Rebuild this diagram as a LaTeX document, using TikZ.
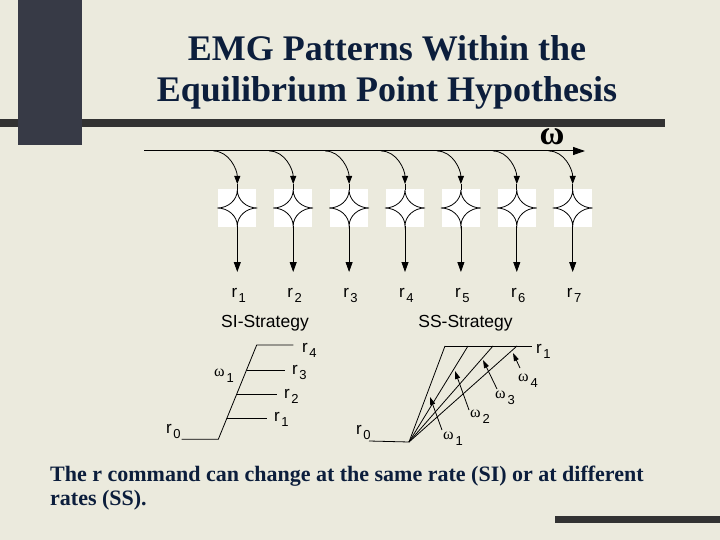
\documentclass[tikz,border=0pt]{standalone}
\usepackage{fontspec}
\setmainfont{Liberation Serif}
\setsansfont{Liberation Sans}
\usetikzlibrary{arrows.meta}
\definecolor{bg}{RGB}{235,234,221}
\definecolor{barv}{RGB}{55,58,70}
\definecolor{barh}{RGB}{50,50,50}
\definecolor{navy}{RGB}{12,30,60}
\newcommand{\rlab}[1]{{\sffamily\fontsize{17}{17}\selectfont r}\kern1.5pt\raisebox{-5pt}{\sffamily\fontsize{13}{13}\selectfont #1}}
\newcommand{\wlab}[1]{{\rmfamily\fontsize{16}{16}\selectfont ω}\kern2pt\raisebox{-6pt}{\sffamily\fontsize{13}{13}\selectfont #1}}
\tikzset{
  titletext/.style={text=navy, font=\bfseries\fontsize{36}{36}\selectfont, inner sep=0pt, anchor=base},
  bodytext/.style={text=navy, font=\bfseries\fontsize{22}{22}\selectfont, inner sep=0pt, anchor=base west},
  lab/.style={inner sep=0pt, anchor=base west},
  heading/.style={font=\sffamily\fontsize{17.5}{17.5}\selectfont, inner sep=0pt, anchor=base},
  ln/.style={line width=0.8pt, black},
  bigtip/.style={-{Triangle[length=12pt,width=8pt]}},
  downtip/.style={-{Triangle[length=10pt,width=7pt]}},
  curvtip/.style={-{Triangle[length=8pt,width=6pt]}},
  smalltip/.style={-{Triangle[length=8pt,width=5pt]}},
}
\begin{document}
\begin{tikzpicture}[x=1pt,y=-1pt]
\useasboundingbox (0,0) rectangle (720,540);
\fill[bg] (0,0) rectangle (720,540);
\fill[barh] (0,119) rectangle (665,127);
\fill[barv] (18,0) rectangle (82,145);
\fill[barh] (555,516) rectangle (720,523);

% title
\node[titletext] (t1) at (387,61) {EMG Patterns Within the};
\node[titletext] (t2) at (387,102) {Equilibrium Point Hypothesis};

% omega axis
\coordinate (ax0) at (144,151);
\coordinate (ax1) at (585,151);
\draw[ln, line width=1pt, bigtip] (ax0) -- (ax1);
\node[inner sep=0pt, anchor=base] (om) at (552,145) {\bfseries\fontsize{34}{34}\selectfont ω};

\foreach \i in {1,...,7} {
  \pgfmathsetmacro\cx{237.3+55.9*(\i-1)}
  \fill[white] (\cx-19,189) rectangle (\cx+19,227);
  \coordinate (c\i) at (\cx-24,151);
  \coordinate (in\i) at (\cx,184);
  \coordinate (top\i) at (\cx,190);
  \coordinate (bot\i) at (\cx,226);
  \coordinate (out\i) at (\cx,272);
  \draw[ln] (top\i) .. controls (\cx,199.9) and (\cx+8.96,208) .. (\cx+20,208)
     .. controls (\cx+8.96,208) and (\cx,216.1) .. (bot\i)
     .. controls (\cx,216.1) and (\cx-8.96,208) .. (\cx-20,208)
     .. controls (\cx-8.96,208) and (\cx,199.9) .. (top\i);
  \draw[ln, curvtip] (c\i) .. controls +(16,0) and +(0,-14) .. (in\i);
  \draw[ln] (in\i) -- (top\i);
  \draw[ln, downtip] (bot\i) -- (out\i);
  \node[lab] (r\i) at (\cx-6,297) {\rlab{\i}};
}

% SI strategy
\node[heading] (si) at (265,327) {SI-Strategy};
\coordinate (si0) at (181.7,439.3);
\coordinate (sia) at (218.3,439.3);
\coordinate (sib) at (256.7,345);
\coordinate (si4) at (293.3,345);
\coordinate (si3a) at (246.5,370);
\coordinate (si3) at (285,370);
\coordinate (si2a) at (236.7,394);
\coordinate (si2) at (276.7,394);
\coordinate (si1a) at (227,418);
\coordinate (si1) at (266.7,418);
\draw[ln] (si0) -- (sia) -- (sib) -- (si4);
\draw[ln] (si3a) -- (si3);
\draw[ln] (si2a) -- (si2);
\draw[ln] (si1a) -- (si1);
\node[lab] (sir4) at (302,352) {\rlab{4}};
\node[lab] (sir3) at (292,374) {\rlab{3}};
\node[lab] (sir2) at (284,398) {\rlab{2}};
\node[lab] (sir1) at (274,421) {\rlab{1}};
\node[lab] (sir0) at (166,433) {\rlab{0}};
\node[lab] (siw1) at (214,376) {\wlab{1}};

% SS strategy
\node[heading] (ss) at (465.5,327) {SS-Strategy};
\coordinate (ss0) at (369,441);
\coordinate (ssa) at (409,442);
\coordinate (sst1) at (445,346);
\coordinate (sst2) at (468,346);
\coordinate (sst3) at (493,346);
\coordinate (sst4) at (517,346);
\coordinate (sstr) at (532,346);
\draw[ln] (ss0) -- (ssa);
\draw[ln] (sst1) -- (sstr);
\foreach \k in {1,...,4} { \draw[ln] (ssa) -- (sst\k); }
\coordinate (w1s) at (442,430); \coordinate (w1e) at (430,397);
\coordinate (w2s) at (469,410); \coordinate (w2e) at (455,371);
\coordinate (w3s) at (497,389); \coordinate (w3e) at (483,360);
\coordinate (w4s) at (520,368); \coordinate (w4e) at (513,353);
\foreach \k in {1,...,4} { \draw[ln, smalltip] (w\k s) -- (w\k e); }
\node[lab] (ssw1) at (443,439) {\wlab{1}};
\node[lab] (ssw2) at (470,417) {\wlab{2}};
\node[lab] (ssw3) at (495,398) {\wlab{3}};
\node[lab] (ssw4) at (518,381) {\wlab{4}};
\node[lab] (ssr1) at (536,353) {\rlab{1}};
\node[lab] (ssr0) at (356,434) {\rlab{0}};

% bottom text
\node[bodytext] (b1) at (50,481) {The r command can change at the same rate (SI) or at different};
\node[bodytext] (b2) at (50,505) {rates (SS).};
\end{tikzpicture}
\end{document}
